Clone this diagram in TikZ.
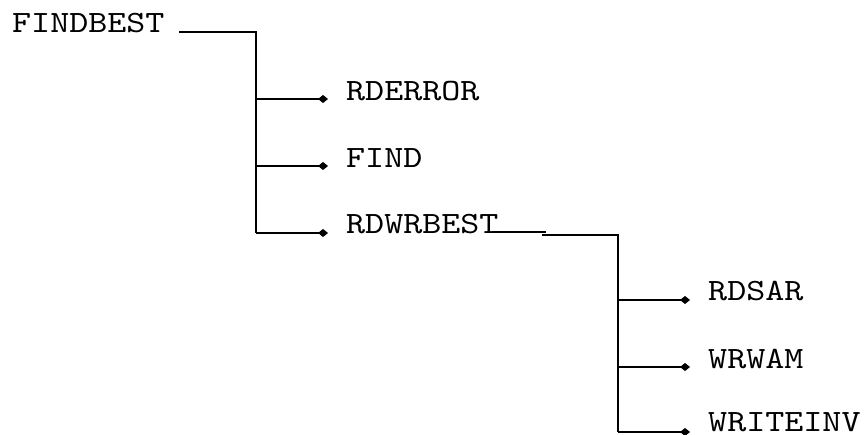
\documentclass[tikz,border=0pt]{standalone}
\usepackage{fontspec}
\setmonofont{lmmono10-regular.otf}[FakeStretch=1.17]
\usetikzlibrary{arrows.meta}
\tikzset{
  lbl/.style={inner sep=0pt, anchor=base west, font=\ttfamily\fontsize{31}{31}\selectfont},
  conn/.style={line width=1.3pt, line cap=butt},
  tip/.style={conn, -{Diamond[width=8pt,length=10pt]}, shorten >=-4pt}
}
\begin{document}
\begin{tikzpicture}[x=1pt,y=-1pt]
\useasboundingbox (0,0) rectangle (864,435);
% labels
\node[lbl] (fb) at (12,33) {FINDBEST};
\node[lbl] (rde) at (346,101) {RDERROR};
\node[lbl] (fnd) at (346,168) {FIND};
\node[lbl] (rdw) at (346,234) {RDWRBEST};
\node[lbl] (rds) at (708,301) {RDSAR};
\node[lbl] (wrw) at (708,368) {WRWAM};
\node[lbl] (wri) at (708,431) {WRITEINV};
% trunk coordinates
\coordinate (t1a) at (179,32);
\coordinate (t1) at (256,32);
\coordinate (b1) at (256,99);
\coordinate (b2) at (256,166);
\coordinate (b3) at (256,233);
\coordinate (d1) at (324,99);
\coordinate (d2) at (324,166);
\coordinate (d3) at (324,233);
\coordinate (s1a) at (492,232);
\coordinate (s1b) at (546,232);
\coordinate (s2a) at (542,235);
\coordinate (t2) at (618,235);
\coordinate (c1) at (618,300);
\coordinate (c2) at (618,367);
\coordinate (c3) at (618,432);
\coordinate (e1) at (686,300);
\coordinate (e2) at (686,367);
\coordinate (e3) at (686,432);
% upper tree
\draw[conn] (t1a) -- (t1) -- (b3);
\draw[tip] (b1) -- (d1);
\draw[tip] (b2) -- (d2);
\draw[tip] (b3) -- (d3);
% lower tree
\draw[conn] (s1a) -- (s1b);
\draw[conn] (s2a) -- (t2) -- (c3);
\draw[tip] (c1) -- (e1);
\draw[tip] (c2) -- (e2);
\draw[tip] (c3) -- (e3);
\end{tikzpicture}
\end{document}
